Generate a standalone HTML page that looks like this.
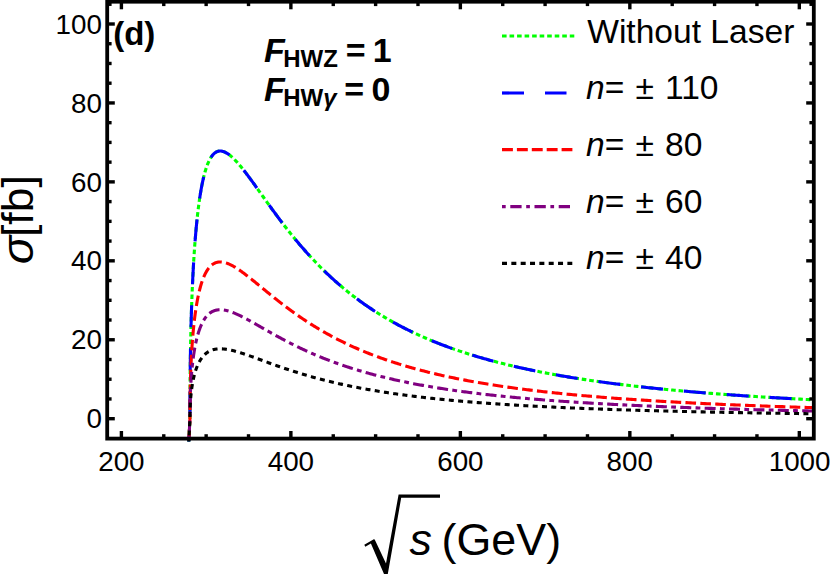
<!DOCTYPE html>
<html><head><meta charset="utf-8"><title>plot</title>
<style>
html,body{margin:0;padding:0;background:#fff;}
body{width:830px;height:574px;overflow:hidden;font-family:"Liberation Sans",sans-serif;}
svg{display:block;}
text{font-family:"Liberation Sans",sans-serif;fill:#000;}
</style></head><body>
<svg width="830" height="574" viewBox="0 0 830 574">
<rect width="830" height="574" fill="#fff"/>
<defs><clipPath id="cp"><rect x="107.2" y="0" width="706.5999999999999" height="442"/></clipPath></defs>
<g fill="none" stroke-width="3.1" stroke-linejoin="round" clip-path="url(#cp)">
<path d="M188.80 441.50 L189.95 418.70 L189.95 415.95 L189.95 413.15 L189.95 410.35 L189.96 407.53 L189.97 404.70 L189.97 401.87 L189.98 399.04 L190.00 396.21 L190.01 393.37 L190.03 390.53 L190.04 387.69 L190.06 384.86 L190.09 382.02 L190.11 379.18 L190.14 376.35 L190.17 373.52 L190.20 370.69 L190.23 367.86 L190.27 365.04 L190.30 362.22 L190.34 359.41 L190.39 356.60 L190.43 353.80 L190.48 351.00 L190.53 348.21 L190.58 345.43 L190.63 342.66 L190.69 339.89 L190.75 337.13 L190.81 334.38 L190.88 331.63 L190.94 328.90 L191.01 326.18 L191.09 323.46 L191.16 320.76 L191.24 318.07 L191.32 315.39 L191.40 312.72 L191.49 310.06 L191.58 307.42 L191.67 304.78 L191.76 302.16 L191.86 299.56 L191.95 296.97 L192.06 294.39 L192.16 291.83 L192.27 289.28 L192.38 286.75 L192.49 284.24 L192.61 281.74 L192.72 279.26 L192.84 276.79 L192.97 274.34 L193.10 271.91 L193.22 269.50 L193.36 267.10 L193.49 264.73 L193.63 262.37 L193.77 260.03 L193.92 257.72 L194.06 255.42 L194.21 253.14 L194.37 250.88 L194.52 248.65 L194.68 246.43 L194.84 244.23 L195.01 242.06 L195.17 239.91 L195.34 237.78 L195.52 235.68 L195.69 233.59 L195.87 231.53 L196.06 229.49 L196.24 227.48 L196.43 225.49 L196.62 223.52 L196.82 221.58 L197.01 219.66 L197.21 217.76 L197.42 215.90 L197.63 214.05 L197.84 212.23 L198.05 210.44 L198.26 208.67 L198.48 206.92 L198.71 205.21 L198.93 203.52 L199.16 201.85 L199.39 200.21 L199.63 198.60 L199.87 197.01 L200.11 195.45 L200.35 193.92 L200.60 192.41 L200.85 190.93 L201.10 189.48 L201.36 188.05 L201.62 186.65 L201.89 185.28 L202.15 183.94 L202.42 182.62 L202.70 181.33 L202.97 180.07 L203.25 178.83 L203.53 177.63 L203.82 176.45 L204.11 175.29 L204.40 174.17 L204.70 173.07 L205.00 172.00 L205.30 170.96 L205.61 169.95 L205.92 168.96 L206.23 168.00 L206.55 167.07 L206.86 166.16 L207.19 165.29 L207.51 164.43 L207.84 163.61 L208.17 162.82 L208.51 162.05 L208.85 161.31 L209.19 160.59 L209.54 159.90 L209.89 159.24 L210.24 158.61 L210.59 158.00 L210.95 157.42 L211.32 156.86 L211.68 156.33 L212.05 155.83 L212.43 155.35 L212.80 154.90 L213.18 154.48 L213.56 154.08 L213.95 153.70 L214.34 153.35 L214.73 153.03 L215.13 152.73 L215.53 152.45 L215.94 152.20 L216.34 151.98 L216.75 151.78 L217.17 151.60 L217.58 151.45 L218.01 151.32 L218.43 151.21 L218.86 151.13 L219.29 151.07 L219.72 151.03 L220.16 151.01 L220.61 151.02 L221.05 151.05 L221.50 151.10 L221.95 151.18 L222.41 151.27 L222.87 151.39 L223.33 151.53 L223.80 151.69 L224.27 151.87 L224.74 152.06 L225.22 152.28 L225.70 152.52 L226.18 152.78 L226.67 153.06 L227.16 153.36 L227.66 153.68 L228.16 154.02 L228.66 154.37 L229.16 154.74 L229.67 155.13 L230.19 155.54 L230.70 155.97 L231.22 156.41 L231.75 156.87 L232.27 157.35 L232.80 157.84 L233.34 158.35 L233.88 158.88 L234.42 159.42 L234.96 159.98 L235.51 160.55 L236.07 161.13 L236.62 161.74 L237.18 162.35 L237.74 162.98 L238.31 163.63 L238.88 164.28 L239.46 164.96 L240.04 165.64 L240.62 166.34 L241.20 167.05 L241.79 167.77 L242.38 168.51 L242.98 169.25 L243.58 170.01 L244.18 170.78 L244.79 171.56 L245.40 172.35 L246.02 173.16 L246.64 173.97 L247.26 174.79 L247.89 175.62 L248.52 176.47 L249.15 177.32 L249.79 178.18 L250.43 179.05 L251.07 179.93 L251.72 180.82 L252.37 181.71 L253.03 182.62 L253.69 183.53 L254.35 184.45 L255.02 185.38 L255.69 186.31 L256.36 187.25 L257.04 188.20 L257.72 189.15 L258.41 190.11 L259.10 191.08 L259.79 192.05 L260.49 193.03 L261.19 194.01 L261.89 195.00 L262.60 196.00 L263.32 197.00 L264.03 198.00 L264.75 199.01 L265.48 200.02 L266.20 201.04 L266.93 202.06 L267.67 203.08 L268.41 204.11 L269.15 205.14 L269.90 206.17 L270.65 207.21 L271.40 208.25 L272.16 209.29 L272.92 210.33 L273.69 211.38 L274.46 212.43 L275.23 213.48 L276.01 214.53 L276.79 215.59 L277.57 216.64 L278.36 217.70 L279.15 218.76 L279.95 219.82 L280.75 220.88 L281.56 221.94 L282.36 223.00 L283.18 224.06 L283.99 225.12 L284.81 226.18 L285.63 227.24 L286.46 228.31 L287.29 229.37 L288.13 230.43 L288.97 231.49 L289.81 232.55 L290.66 233.61 L291.51 234.67 L292.36 235.73 L293.22 236.78 L294.08 237.84 L294.95 238.89 L295.82 239.94 L296.70 240.99 L297.57 242.04 L298.46 243.09 L299.34 244.14 L300.23 245.18 L301.13 246.22 L302.02 247.26 L302.93 248.30 L303.83 249.34 L304.74 250.37 L305.66 251.40 L306.57 252.43 L307.49 253.45 L308.42 254.48 L309.35 255.49 L310.28 256.51 L311.22 257.53 L312.16 258.54 L313.11 259.54 L314.06 260.55 L315.01 261.55 L315.97 262.55 L316.93 263.54 L317.89 264.54 L318.86 265.52 L319.84 266.51 L320.81 267.49 L321.79 268.47 L322.78 269.44 L323.77 270.41 L324.76 271.38 L325.76 272.34 L326.76 273.30 L327.77 274.25 L328.78 275.20 L329.79 276.15 L330.81 277.09 L331.83 278.03 L332.85 278.97 L333.88 279.90 L334.92 280.82 L335.95 281.75 L337.00 282.66 L338.04 283.58 L339.09 284.49 L340.14 285.39 L341.20 286.29 L342.26 287.19 L343.33 288.08 L344.40 288.97 L345.47 289.85 L346.55 290.73 L347.63 291.61 L348.72 292.48 L349.81 293.34 L350.90 294.20 L352.00 295.06 L353.10 295.91 L354.21 296.76 L355.32 297.60 L356.44 298.44 L357.55 299.27 L358.68 300.10 L359.80 300.92 L360.94 301.74 L362.07 302.56 L363.21 303.37 L364.35 304.17 L365.50 304.97 L366.65 305.77 L367.81 306.56 L368.97 307.35 L370.13 308.13 L371.30 308.90 L372.47 309.68 L373.65 310.45 L374.83 311.21 L376.01 311.97 L377.20 312.72 L378.39 313.47 L379.59 314.22 L380.79 314.96 L382.00 315.69 L383.21 316.42 L384.42 317.15 L385.64 317.87 L386.86 318.59 L388.08 319.30 L389.31 320.01 L390.55 320.71 L391.79 321.41 L393.03 322.11 L394.27 322.80 L395.53 323.48 L396.78 324.16 L398.04 324.84 L399.30 325.51 L400.57 326.18 L401.84 326.84 L403.12 327.50 L404.40 328.15 L405.68 328.80 L406.97 329.45 L408.26 330.09 L409.56 330.72 L410.86 331.36 L412.16 331.98 L413.47 332.61 L414.79 333.23 L416.11 333.84 L417.43 334.45 L418.75 335.06 L420.08 335.66 L421.42 336.26 L422.76 336.85 L424.10 337.44 L425.45 338.02 L426.80 338.61 L428.15 339.18 L429.51 339.76 L430.88 340.32 L432.25 340.89 L433.62 341.45 L434.99 342.01 L436.37 342.56 L437.76 343.11 L439.15 343.65 L440.54 344.19 L441.94 344.73 L443.34 345.26 L444.75 345.79 L446.16 346.32 L447.57 346.84 L448.99 347.36 L450.42 347.87 L451.84 348.38 L453.28 348.88 L454.71 349.39 L456.15 349.89 L457.60 350.38 L459.05 350.87 L460.50 351.36 L461.96 351.84 L463.42 352.32 L464.88 352.80 L466.35 353.27 L467.83 353.74 L469.31 354.21 L470.79 354.67 L472.28 355.13 L473.77 355.59 L475.27 356.04 L476.77 356.49 L478.27 356.94 L479.78 357.38 L481.29 357.82 L482.81 358.25 L484.33 358.68 L485.86 359.11 L487.39 359.54 L488.92 359.96 L490.46 360.38 L492.01 360.80 L493.55 361.21 L495.10 361.62 L496.66 362.03 L498.22 362.43 L499.79 362.83 L501.36 363.23 L502.93 363.62 L504.51 364.01 L506.09 364.40 L507.68 364.79 L509.27 365.17 L510.86 365.55 L512.46 365.93 L514.06 366.30 L515.67 366.67 L517.28 367.04 L518.90 367.40 L520.52 367.77 L522.15 368.13 L523.78 368.48 L525.41 368.84 L527.05 369.19 L528.69 369.54 L530.34 369.88 L531.99 370.23 L533.65 370.57 L535.31 370.90 L536.97 371.24 L538.64 371.57 L540.32 371.90 L541.99 372.23 L543.68 372.56 L545.36 372.88 L547.05 373.20 L548.75 373.52 L550.45 373.83 L552.15 374.14 L553.86 374.45 L555.58 374.76 L557.29 375.07 L559.01 375.37 L560.74 375.67 L562.47 375.97 L564.21 376.27 L565.94 376.56 L567.69 376.85 L569.44 377.14 L571.19 377.43 L572.95 377.71 L574.71 378.00 L576.47 378.28 L578.24 378.55 L580.02 378.83 L581.80 379.10 L583.58 379.38 L585.37 379.65 L587.16 379.91 L588.96 380.18 L590.76 380.44 L592.56 380.70 L594.37 380.96 L596.19 381.22 L598.01 381.48 L599.83 381.73 L601.66 381.98 L603.49 382.23 L605.32 382.48 L607.17 382.72 L609.01 382.97 L610.86 383.21 L612.71 383.45 L614.57 383.69 L616.44 383.93 L618.30 384.16 L620.18 384.39 L622.05 384.62 L623.93 384.85 L625.82 385.08 L627.71 385.31 L629.60 385.53 L631.50 385.75 L633.41 385.97 L635.31 386.19 L637.22 386.41 L639.14 386.62 L641.06 386.84 L642.99 387.05 L644.92 387.26 L646.85 387.47 L648.79 387.68 L650.74 387.88 L652.68 388.09 L654.64 388.29 L656.59 388.49 L658.55 388.69 L660.52 388.89 L662.49 389.09 L664.47 389.28 L666.44 389.47 L668.43 389.67 L670.42 389.86 L672.41 390.05 L674.41 390.23 L676.41 390.42 L678.42 390.61 L680.43 390.79 L682.44 390.97 L684.46 391.15 L686.49 391.33 L688.52 391.51 L690.55 391.69 L692.59 391.86 L694.63 392.04 L696.68 392.21 L698.73 392.38 L700.78 392.55 L702.84 392.72 L704.91 392.89 L706.98 393.05 L709.05 393.22 L711.13 393.38 L713.22 393.54 L715.30 393.70 L717.40 393.87 L719.49 394.02 L721.59 394.18 L723.70 394.34 L725.81 394.49 L727.92 394.65 L730.04 394.80 L732.17 394.95 L734.30 395.10 L736.43 395.25 L738.57 395.40 L740.71 395.55 L742.86 395.70 L745.01 395.84 L747.16 395.99 L749.32 396.13 L751.49 396.27 L753.66 396.41 L755.83 396.55 L758.01 396.69 L760.20 396.83 L762.38 396.97 L764.58 397.10 L766.77 397.24 L768.97 397.37 L771.18 397.50 L773.39 397.64 L775.61 397.77 L777.83 397.90 L780.05 398.03 L782.28 398.15 L784.51 398.28 L786.75 398.41 L789.00 398.53 L791.24 398.66 L793.49 398.78 L795.75 398.90 L798.01 399.02 L800.28 399.15 L802.55 399.27 L804.82 399.38 L807.10 399.50 L809.39 399.62 L811.68 399.74 L813.97 399.85" stroke="#00ff00" stroke-dasharray="4.6 2.9"/>
<path d="M188.80 441.50 L189.95 418.70 L189.95 415.95 L189.95 413.15 L189.95 410.35 L189.96 407.53 L189.97 404.70 L189.97 401.87 L189.98 399.04 L190.00 396.21 L190.01 393.37 L190.03 390.53 L190.04 387.69 L190.06 384.86 L190.09 382.02 L190.11 379.18 L190.14 376.35 L190.17 373.52 L190.20 370.69 L190.23 367.86 L190.27 365.04 L190.30 362.22 L190.34 359.41 L190.39 356.60 L190.43 353.80 L190.48 351.00 L190.53 348.21 L190.58 345.43 L190.63 342.66 L190.69 339.89 L190.75 337.13 L190.81 334.38 L190.88 331.63 L190.94 328.90 L191.01 326.18 L191.09 323.46 L191.16 320.76 L191.24 318.07 L191.32 315.39 L191.40 312.72 L191.49 310.06 L191.58 307.42 L191.67 304.78 L191.76 302.16 L191.86 299.56 L191.95 296.97 L192.06 294.39 L192.16 291.83 L192.27 289.28 L192.38 286.75 L192.49 284.24 L192.61 281.74 L192.72 279.26 L192.84 276.79 L192.97 274.34 L193.10 271.91 L193.22 269.50 L193.36 267.10 L193.49 264.73 L193.63 262.37 L193.77 260.03 L193.92 257.72 L194.06 255.42 L194.21 253.14 L194.37 250.88 L194.52 248.65 L194.68 246.43 L194.84 244.23 L195.01 242.06 L195.17 239.91 L195.34 237.78 L195.52 235.68 L195.69 233.59 L195.87 231.53 L196.06 229.49 L196.24 227.48 L196.43 225.49 L196.62 223.52 L196.82 221.58 L197.01 219.66 L197.21 217.76 L197.42 215.90 L197.63 214.05 L197.84 212.23 L198.05 210.44 L198.26 208.67 L198.48 206.92 L198.71 205.21 L198.93 203.52 L199.16 201.85 L199.39 200.21 L199.63 198.60 L199.87 197.01 L200.11 195.45 L200.35 193.92 L200.60 192.41 L200.85 190.93 L201.10 189.48 L201.36 188.05 L201.62 186.65 L201.89 185.28 L202.15 183.94 L202.42 182.62 L202.70 181.33 L202.97 180.07 L203.25 178.83 L203.53 177.63 L203.82 176.45 L204.11 175.29 L204.40 174.17 L204.70 173.07 L205.00 172.00 L205.30 170.96 L205.61 169.95 L205.92 168.96 L206.23 168.00 L206.55 167.07 L206.86 166.16 L207.19 165.29 L207.51 164.43 L207.84 163.61 L208.17 162.82 L208.51 162.05 L208.85 161.31 L209.19 160.59 L209.54 159.90 L209.89 159.24 L210.24 158.61 L210.59 158.00 L210.95 157.42 L211.32 156.86 L211.68 156.33 L212.05 155.83 L212.43 155.35 L212.80 154.90 L213.18 154.48 L213.56 154.08 L213.95 153.70 L214.34 153.35 L214.73 153.03 L215.13 152.73 L215.53 152.45 L215.94 152.20 L216.34 151.98 L216.75 151.78 L217.17 151.60 L217.58 151.45 L218.01 151.32 L218.43 151.21 L218.86 151.13 L219.29 151.07 L219.72 151.03 L220.16 151.01 L220.61 151.02 L221.05 151.05 L221.50 151.10 L221.95 151.18 L222.41 151.27 L222.87 151.39 L223.33 151.53 L223.80 151.69 L224.27 151.87 L224.74 152.06 L225.22 152.28 L225.70 152.52 L226.18 152.78 L226.67 153.06 L227.16 153.36 L227.66 153.68 L228.16 154.02 L228.66 154.37 L229.16 154.74 L229.67 155.13 L230.19 155.54 L230.70 155.97 L231.22 156.41 L231.75 156.87 L232.27 157.35 L232.80 157.84 L233.34 158.35 L233.88 158.88 L234.42 159.42 L234.96 159.98 L235.51 160.55 L236.07 161.13 L236.62 161.74 L237.18 162.35 L237.74 162.98 L238.31 163.63 L238.88 164.28 L239.46 164.96 L240.04 165.64 L240.62 166.34 L241.20 167.05 L241.79 167.77 L242.38 168.51 L242.98 169.25 L243.58 170.01 L244.18 170.78 L244.79 171.56 L245.40 172.35 L246.02 173.16 L246.64 173.97 L247.26 174.79 L247.89 175.62 L248.52 176.47 L249.15 177.32 L249.79 178.18 L250.43 179.05 L251.07 179.93 L251.72 180.82 L252.37 181.71 L253.03 182.62 L253.69 183.53 L254.35 184.45 L255.02 185.38 L255.69 186.31 L256.36 187.25 L257.04 188.20 L257.72 189.15 L258.41 190.11 L259.10 191.08 L259.79 192.05 L260.49 193.03 L261.19 194.01 L261.89 195.00 L262.60 196.00 L263.32 197.00 L264.03 198.00 L264.75 199.01 L265.48 200.02 L266.20 201.04 L266.93 202.06 L267.67 203.08 L268.41 204.11 L269.15 205.14 L269.90 206.17 L270.65 207.21 L271.40 208.25 L272.16 209.29 L272.92 210.33 L273.69 211.38 L274.46 212.43 L275.23 213.48 L276.01 214.53 L276.79 215.59 L277.57 216.64 L278.36 217.70 L279.15 218.76 L279.95 219.82 L280.75 220.88 L281.56 221.94 L282.36 223.00 L283.18 224.06 L283.99 225.12 L284.81 226.18 L285.63 227.24 L286.46 228.31 L287.29 229.37 L288.13 230.43 L288.97 231.49 L289.81 232.55 L290.66 233.61 L291.51 234.67 L292.36 235.73 L293.22 236.78 L294.08 237.84 L294.95 238.89 L295.82 239.94 L296.70 240.99 L297.57 242.04 L298.46 243.09 L299.34 244.14 L300.23 245.18 L301.13 246.22 L302.02 247.26 L302.93 248.30 L303.83 249.34 L304.74 250.37 L305.66 251.40 L306.57 252.43 L307.49 253.45 L308.42 254.48 L309.35 255.49 L310.28 256.51 L311.22 257.53 L312.16 258.54 L313.11 259.54 L314.06 260.55 L315.01 261.55 L315.97 262.55 L316.93 263.54 L317.89 264.54 L318.86 265.52 L319.84 266.51 L320.81 267.49 L321.79 268.47 L322.78 269.44 L323.77 270.41 L324.76 271.38 L325.76 272.34 L326.76 273.30 L327.77 274.25 L328.78 275.20 L329.79 276.15 L330.81 277.09 L331.83 278.03 L332.85 278.97 L333.88 279.90 L334.92 280.82 L335.95 281.75 L337.00 282.66 L338.04 283.58 L339.09 284.49 L340.14 285.39 L341.20 286.29 L342.26 287.19 L343.33 288.08 L344.40 288.97 L345.47 289.85 L346.55 290.73 L347.63 291.61 L348.72 292.48 L349.81 293.34 L350.90 294.20 L352.00 295.06 L353.10 295.91 L354.21 296.76 L355.32 297.60 L356.44 298.44 L357.55 299.27 L358.68 300.10 L359.80 300.92 L360.94 301.74 L362.07 302.56 L363.21 303.37 L364.35 304.17 L365.50 304.97 L366.65 305.77 L367.81 306.56 L368.97 307.35 L370.13 308.13 L371.30 308.90 L372.47 309.68 L373.65 310.45 L374.83 311.21 L376.01 311.97 L377.20 312.72 L378.39 313.47 L379.59 314.22 L380.79 314.96 L382.00 315.69 L383.21 316.42 L384.42 317.15 L385.64 317.87 L386.86 318.59 L388.08 319.30 L389.31 320.01 L390.55 320.71 L391.79 321.41 L393.03 322.11 L394.27 322.80 L395.53 323.48 L396.78 324.16 L398.04 324.84 L399.30 325.51 L400.57 326.18 L401.84 326.84 L403.12 327.50 L404.40 328.15 L405.68 328.80 L406.97 329.45 L408.26 330.09 L409.56 330.72 L410.86 331.36 L412.16 331.98 L413.47 332.61 L414.79 333.23 L416.11 333.84 L417.43 334.45 L418.75 335.06 L420.08 335.66 L421.42 336.26 L422.76 336.85 L424.10 337.44 L425.45 338.02 L426.80 338.61 L428.15 339.18 L429.51 339.76 L430.88 340.32 L432.25 340.89 L433.62 341.45 L434.99 342.01 L436.37 342.56 L437.76 343.11 L439.15 343.65 L440.54 344.19 L441.94 344.73 L443.34 345.26 L444.75 345.79 L446.16 346.32 L447.57 346.84 L448.99 347.36 L450.42 347.87 L451.84 348.38 L453.28 348.88 L454.71 349.39 L456.15 349.89 L457.60 350.38 L459.05 350.87 L460.50 351.36 L461.96 351.84 L463.42 352.32 L464.88 352.80 L466.35 353.27 L467.83 353.74 L469.31 354.21 L470.79 354.67 L472.28 355.13 L473.77 355.59 L475.27 356.04 L476.77 356.49 L478.27 356.94 L479.78 357.38 L481.29 357.82 L482.81 358.25 L484.33 358.68 L485.86 359.11 L487.39 359.54 L488.92 359.96 L490.46 360.38 L492.01 360.80 L493.55 361.21 L495.10 361.62 L496.66 362.03 L498.22 362.43 L499.79 362.83 L501.36 363.23 L502.93 363.62 L504.51 364.01 L506.09 364.40 L507.68 364.79 L509.27 365.17 L510.86 365.55 L512.46 365.93 L514.06 366.30 L515.67 366.67 L517.28 367.04 L518.90 367.40 L520.52 367.77 L522.15 368.13 L523.78 368.48 L525.41 368.84 L527.05 369.19 L528.69 369.54 L530.34 369.88 L531.99 370.23 L533.65 370.57 L535.31 370.90 L536.97 371.24 L538.64 371.57 L540.32 371.90 L541.99 372.23 L543.68 372.56 L545.36 372.88 L547.05 373.20 L548.75 373.52 L550.45 373.83 L552.15 374.14 L553.86 374.45 L555.58 374.76 L557.29 375.07 L559.01 375.37 L560.74 375.67 L562.47 375.97 L564.21 376.27 L565.94 376.56 L567.69 376.85 L569.44 377.14 L571.19 377.43 L572.95 377.71 L574.71 378.00 L576.47 378.28 L578.24 378.55 L580.02 378.83 L581.80 379.10 L583.58 379.38 L585.37 379.65 L587.16 379.91 L588.96 380.18 L590.76 380.44 L592.56 380.70 L594.37 380.96 L596.19 381.22 L598.01 381.48 L599.83 381.73 L601.66 381.98 L603.49 382.23 L605.32 382.48 L607.17 382.72 L609.01 382.97 L610.86 383.21 L612.71 383.45 L614.57 383.69 L616.44 383.93 L618.30 384.16 L620.18 384.39 L622.05 384.62 L623.93 384.85 L625.82 385.08 L627.71 385.31 L629.60 385.53 L631.50 385.75 L633.41 385.97 L635.31 386.19 L637.22 386.41 L639.14 386.62 L641.06 386.84 L642.99 387.05 L644.92 387.26 L646.85 387.47 L648.79 387.68 L650.74 387.88 L652.68 388.09 L654.64 388.29 L656.59 388.49 L658.55 388.69 L660.52 388.89 L662.49 389.09 L664.47 389.28 L666.44 389.47 L668.43 389.67 L670.42 389.86 L672.41 390.05 L674.41 390.23 L676.41 390.42 L678.42 390.61 L680.43 390.79 L682.44 390.97 L684.46 391.15 L686.49 391.33 L688.52 391.51 L690.55 391.69 L692.59 391.86 L694.63 392.04 L696.68 392.21 L698.73 392.38 L700.78 392.55 L702.84 392.72 L704.91 392.89 L706.98 393.05 L709.05 393.22 L711.13 393.38 L713.22 393.54 L715.30 393.70 L717.40 393.87 L719.49 394.02 L721.59 394.18 L723.70 394.34 L725.81 394.49 L727.92 394.65 L730.04 394.80 L732.17 394.95 L734.30 395.10 L736.43 395.25 L738.57 395.40 L740.71 395.55 L742.86 395.70 L745.01 395.84 L747.16 395.99 L749.32 396.13 L751.49 396.27 L753.66 396.41 L755.83 396.55 L758.01 396.69 L760.20 396.83 L762.38 396.97 L764.58 397.10 L766.77 397.24 L768.97 397.37 L771.18 397.50 L773.39 397.64 L775.61 397.77 L777.83 397.90 L780.05 398.03 L782.28 398.15 L784.51 398.28 L786.75 398.41 L789.00 398.53 L791.24 398.66 L793.49 398.78 L795.75 398.90 L798.01 399.02 L800.28 399.15 L802.55 399.27 L804.82 399.38 L807.10 399.50 L809.39 399.62 L811.68 399.74 L813.97 399.85" stroke="#0000ff" stroke-dasharray="22 21" stroke-dashoffset="14.7"/>
<path d="M188.80 441.50 L189.95 418.70 L189.95 417.09 L189.95 415.45 L189.95 413.81 L189.96 412.16 L189.97 410.50 L189.97 408.85 L189.98 407.19 L190.00 405.53 L190.01 403.87 L190.03 402.21 L190.04 400.54 L190.06 398.88 L190.09 397.22 L190.11 395.56 L190.14 393.90 L190.17 392.24 L190.20 390.59 L190.23 388.93 L190.27 387.28 L190.30 385.63 L190.34 383.98 L190.39 382.34 L190.43 380.70 L190.48 379.06 L190.53 377.43 L190.58 375.80 L190.63 374.17 L190.69 372.55 L190.75 370.94 L190.81 369.32 L190.88 367.72 L190.94 366.12 L191.01 364.52 L191.09 362.93 L191.16 361.35 L191.24 359.77 L191.32 358.20 L191.40 356.64 L191.49 355.09 L191.58 353.54 L191.67 352.00 L191.76 350.46 L191.86 348.94 L191.95 347.42 L192.06 345.91 L192.16 344.41 L192.27 342.92 L192.38 341.44 L192.49 339.97 L192.61 338.50 L192.72 337.05 L192.84 335.61 L192.97 334.17 L193.10 332.75 L193.22 331.34 L193.36 329.93 L193.49 328.54 L193.63 327.16 L193.77 325.79 L193.92 324.44 L194.06 323.09 L194.21 321.76 L194.37 320.43 L194.52 319.13 L194.68 317.83 L194.84 316.54 L195.01 315.27 L195.17 314.01 L195.34 312.76 L195.52 311.53 L195.69 310.31 L195.87 309.10 L196.06 307.91 L196.24 306.73 L196.43 305.57 L196.62 304.41 L196.82 303.28 L197.01 302.15 L197.21 301.04 L197.42 299.95 L197.63 298.87 L197.84 297.80 L198.05 296.75 L198.26 295.72 L198.48 294.70 L198.71 293.69 L198.93 292.70 L199.16 291.72 L199.39 290.76 L199.63 289.82 L199.87 288.89 L200.11 287.98 L200.35 287.08 L200.60 286.20 L200.85 285.33 L201.10 284.48 L201.36 283.64 L201.62 282.83 L201.89 282.02 L202.15 281.24 L202.42 280.46 L202.70 279.71 L202.97 278.97 L203.25 278.25 L203.53 277.54 L203.82 276.85 L204.11 276.18 L204.40 275.52 L204.70 274.87 L205.00 274.25 L205.30 273.64 L205.61 273.04 L205.92 272.47 L206.23 271.90 L206.55 271.36 L206.86 270.83 L207.19 270.31 L207.51 269.82 L207.84 269.33 L208.17 268.87 L208.51 268.42 L208.85 267.98 L209.19 267.57 L209.54 267.16 L209.89 266.78 L210.24 266.40 L210.59 266.05 L210.95 265.71 L211.32 265.38 L211.68 265.07 L212.05 264.78 L212.43 264.50 L212.80 264.23 L213.18 263.99 L213.56 263.75 L213.95 263.53 L214.34 263.33 L214.73 263.14 L215.13 262.96 L215.53 262.80 L215.94 262.65 L216.34 262.52 L216.75 262.40 L217.17 262.30 L217.58 262.21 L218.01 262.13 L218.43 262.07 L218.86 262.02 L219.29 261.99 L219.72 261.97 L220.16 261.96 L220.61 261.96 L221.05 261.98 L221.50 262.01 L221.95 262.05 L222.41 262.11 L222.87 262.18 L223.33 262.26 L223.80 262.35 L224.27 262.46 L224.74 262.57 L225.22 262.70 L225.70 262.84 L226.18 262.99 L226.67 263.16 L227.16 263.33 L227.66 263.52 L228.16 263.71 L228.66 263.92 L229.16 264.14 L229.67 264.37 L230.19 264.61 L230.70 264.86 L231.22 265.12 L231.75 265.39 L232.27 265.67 L232.80 265.96 L233.34 266.25 L233.88 266.56 L234.42 266.88 L234.96 267.20 L235.51 267.54 L236.07 267.88 L236.62 268.24 L237.18 268.60 L237.74 268.97 L238.31 269.34 L238.88 269.73 L239.46 270.12 L240.04 270.52 L240.62 270.93 L241.20 271.35 L241.79 271.77 L242.38 272.20 L242.98 272.64 L243.58 273.08 L244.18 273.53 L244.79 273.99 L245.40 274.45 L246.02 274.92 L246.64 275.40 L247.26 275.88 L247.89 276.37 L248.52 276.86 L249.15 277.36 L249.79 277.86 L250.43 278.37 L251.07 278.89 L251.72 279.41 L252.37 279.93 L253.03 280.46 L253.69 281.00 L254.35 281.54 L255.02 282.08 L255.69 282.63 L256.36 283.18 L257.04 283.73 L257.72 284.29 L258.41 284.85 L259.10 285.42 L259.79 285.99 L260.49 286.56 L261.19 287.14 L261.89 287.72 L262.60 288.30 L263.32 288.88 L264.03 289.47 L264.75 290.06 L265.48 290.65 L266.20 291.25 L266.93 291.84 L267.67 292.44 L268.41 293.05 L269.15 293.65 L269.90 294.25 L270.65 294.86 L271.40 295.47 L272.16 296.08 L272.92 296.69 L273.69 297.30 L274.46 297.92 L275.23 298.53 L276.01 299.15 L276.79 299.77 L277.57 300.39 L278.36 301.00 L279.15 301.62 L279.95 302.24 L280.75 302.86 L281.56 303.49 L282.36 304.11 L283.18 304.73 L283.99 305.35 L284.81 305.97 L285.63 306.59 L286.46 307.22 L287.29 307.84 L288.13 308.46 L288.97 309.08 L289.81 309.70 L290.66 310.32 L291.51 310.94 L292.36 311.56 L293.22 312.18 L294.08 312.80 L294.95 313.41 L295.82 314.03 L296.70 314.65 L297.57 315.26 L298.46 315.87 L299.34 316.49 L300.23 317.10 L301.13 317.71 L302.02 318.32 L302.93 318.92 L303.83 319.53 L304.74 320.13 L305.66 320.74 L306.57 321.34 L307.49 321.94 L308.42 322.54 L309.35 323.14 L310.28 323.73 L311.22 324.33 L312.16 324.92 L313.11 325.51 L314.06 326.10 L315.01 326.68 L315.97 327.27 L316.93 327.85 L317.89 328.43 L318.86 329.01 L319.84 329.59 L320.81 330.16 L321.79 330.73 L322.78 331.30 L323.77 331.87 L324.76 332.44 L325.76 333.00 L326.76 333.56 L327.77 334.12 L328.78 334.68 L329.79 335.23 L330.81 335.78 L331.83 336.33 L332.85 336.88 L333.88 337.43 L334.92 337.97 L335.95 338.51 L337.00 339.05 L338.04 339.58 L339.09 340.11 L340.14 340.64 L341.20 341.17 L342.26 341.69 L343.33 342.22 L344.40 342.74 L345.47 343.25 L346.55 343.77 L347.63 344.28 L348.72 344.79 L349.81 345.30 L350.90 345.80 L352.00 346.30 L353.10 346.80 L354.21 347.30 L355.32 347.79 L356.44 348.28 L357.55 348.77 L358.68 349.25 L359.80 349.74 L360.94 350.21 L362.07 350.69 L363.21 351.17 L364.35 351.64 L365.50 352.11 L366.65 352.57 L367.81 353.04 L368.97 353.50 L370.13 353.95 L371.30 354.41 L372.47 354.86 L373.65 355.31 L374.83 355.76 L376.01 356.20 L377.20 356.65 L378.39 357.08 L379.59 357.52 L380.79 357.95 L382.00 358.38 L383.21 358.81 L384.42 359.24 L385.64 359.66 L386.86 360.08 L388.08 360.50 L389.31 360.91 L390.55 361.32 L391.79 361.73 L393.03 362.14 L394.27 362.54 L395.53 362.94 L396.78 363.34 L398.04 363.74 L399.30 364.13 L400.57 364.52 L401.84 364.91 L403.12 365.30 L404.40 365.68 L405.68 366.06 L406.97 366.44 L408.26 366.81 L409.56 367.19 L410.86 367.56 L412.16 367.92 L413.47 368.29 L414.79 368.65 L416.11 369.01 L417.43 369.37 L418.75 369.72 L420.08 370.08 L421.42 370.43 L422.76 370.77 L424.10 371.12 L425.45 371.46 L426.80 371.80 L428.15 372.14 L429.51 372.47 L430.88 372.81 L432.25 373.14 L433.62 373.47 L434.99 373.79 L436.37 374.12 L437.76 374.44 L439.15 374.76 L440.54 375.07 L441.94 375.39 L443.34 375.70 L444.75 376.01 L446.16 376.32 L447.57 376.62 L448.99 376.92 L450.42 377.23 L451.84 377.52 L453.28 377.82 L454.71 378.11 L456.15 378.41 L457.60 378.70 L459.05 378.98 L460.50 379.27 L461.96 379.55 L463.42 379.83 L464.88 380.11 L466.35 380.39 L467.83 380.67 L469.31 380.94 L470.79 381.21 L472.28 381.48 L473.77 381.75 L475.27 382.01 L476.77 382.27 L478.27 382.53 L479.78 382.79 L481.29 383.05 L482.81 383.31 L484.33 383.56 L485.86 383.81 L487.39 384.06 L488.92 384.31 L490.46 384.55 L492.01 384.80 L493.55 385.04 L495.10 385.28 L496.66 385.52 L498.22 385.75 L499.79 385.99 L501.36 386.22 L502.93 386.45 L504.51 386.68 L506.09 386.91 L507.68 387.13 L509.27 387.36 L510.86 387.58 L512.46 387.80 L514.06 388.02 L515.67 388.23 L517.28 388.45 L518.90 388.66 L520.52 388.88 L522.15 389.09 L523.78 389.30 L525.41 389.50 L527.05 389.71 L528.69 389.91 L530.34 390.12 L531.99 390.32 L533.65 390.52 L535.31 390.71 L536.97 390.91 L538.64 391.10 L540.32 391.30 L541.99 391.49 L543.68 391.68 L545.36 391.87 L547.05 392.06 L548.75 392.24 L550.45 392.43 L552.15 392.61 L553.86 392.79 L555.58 392.97 L557.29 393.15 L559.01 393.33 L560.74 393.50 L562.47 393.68 L564.21 393.85 L565.94 394.02 L567.69 394.20 L569.44 394.36 L571.19 394.53 L572.95 394.70 L574.71 394.87 L576.47 395.03 L578.24 395.19 L580.02 395.35 L581.80 395.51 L583.58 395.67 L585.37 395.83 L587.16 395.99 L588.96 396.14 L590.76 396.30 L592.56 396.45 L594.37 396.60 L596.19 396.75 L598.01 396.90 L599.83 397.05 L601.66 397.20 L603.49 397.35 L605.32 397.49 L607.17 397.63 L609.01 397.78 L610.86 397.92 L612.71 398.06 L614.57 398.20 L616.44 398.34 L618.30 398.48 L620.18 398.61 L622.05 398.75 L623.93 398.88 L625.82 399.01 L627.71 399.15 L629.60 399.28 L631.50 399.41 L633.41 399.54 L635.31 399.67 L637.22 399.79 L639.14 399.92 L641.06 400.04 L642.99 400.17 L644.92 400.29 L646.85 400.41 L648.79 400.54 L650.74 400.66 L652.68 400.78 L654.64 400.89 L656.59 401.01 L658.55 401.13 L660.52 401.24 L662.49 401.36 L664.47 401.47 L666.44 401.59 L668.43 401.70 L670.42 401.81 L672.41 401.92 L674.41 402.03 L676.41 402.14 L678.42 402.25 L680.43 402.36 L682.44 402.46 L684.46 402.57 L686.49 402.67 L688.52 402.78 L690.55 402.88 L692.59 402.98 L694.63 403.09 L696.68 403.19 L698.73 403.29 L700.78 403.39 L702.84 403.49 L704.91 403.58 L706.98 403.68 L709.05 403.78 L711.13 403.87 L713.22 403.97 L715.30 404.06 L717.40 404.16 L719.49 404.25 L721.59 404.34 L723.70 404.44 L725.81 404.53 L727.92 404.62 L730.04 404.71 L732.17 404.80 L734.30 404.88 L736.43 404.97 L738.57 405.06 L740.71 405.14 L742.86 405.23 L745.01 405.32 L747.16 405.40 L749.32 405.48 L751.49 405.57 L753.66 405.65 L755.83 405.73 L758.01 405.81 L760.20 405.89 L762.38 405.97 L764.58 406.05 L766.77 406.13 L768.97 406.21 L771.18 406.29 L773.39 406.37 L775.61 406.44 L777.83 406.52 L780.05 406.59 L782.28 406.67 L784.51 406.74 L786.75 406.82 L789.00 406.89 L791.24 406.96 L793.49 407.04 L795.75 407.11 L798.01 407.18 L800.28 407.25 L802.55 407.32 L804.82 407.39 L807.10 407.46 L809.39 407.53 L811.68 407.60 L813.97 407.66" stroke="#ff0000" stroke-dasharray="10.6 4.3" stroke-dashoffset="13.2"/>
<path d="M188.80 441.50 L189.95 418.70 L189.95 417.58 L189.95 416.44 L189.95 415.30 L189.96 414.15 L189.97 413.00 L189.97 411.85 L189.98 410.70 L190.00 409.54 L190.01 408.39 L190.03 407.23 L190.04 406.08 L190.06 404.92 L190.09 403.77 L190.11 402.61 L190.14 401.46 L190.17 400.31 L190.20 399.16 L190.23 398.00 L190.27 396.86 L190.30 395.71 L190.34 394.56 L190.39 393.42 L190.43 392.28 L190.48 391.14 L190.53 390.01 L190.58 388.87 L190.63 387.74 L190.69 386.62 L190.75 385.49 L190.81 384.37 L190.88 383.26 L190.94 382.14 L191.01 381.04 L191.09 379.93 L191.16 378.83 L191.24 377.73 L191.32 376.64 L191.40 375.56 L191.49 374.47 L191.58 373.40 L191.67 372.33 L191.76 371.26 L191.86 370.20 L191.95 369.15 L192.06 368.10 L192.16 367.05 L192.27 366.02 L192.38 364.99 L192.49 363.96 L192.61 362.95 L192.72 361.94 L192.84 360.93 L192.97 359.94 L193.10 358.95 L193.22 357.96 L193.36 356.99 L193.49 356.02 L193.63 355.06 L193.77 354.11 L193.92 353.17 L194.06 352.23 L194.21 351.30 L194.37 350.38 L194.52 349.47 L194.68 348.57 L194.84 347.68 L195.01 346.79 L195.17 345.92 L195.34 345.05 L195.52 344.19 L195.69 343.35 L195.87 342.51 L196.06 341.68 L196.24 340.86 L196.43 340.05 L196.62 339.25 L196.82 338.46 L197.01 337.67 L197.21 336.90 L197.42 336.14 L197.63 335.39 L197.84 334.65 L198.05 333.92 L198.26 333.20 L198.48 332.49 L198.71 331.79 L198.93 331.10 L199.16 330.42 L199.39 329.76 L199.63 329.10 L199.87 328.45 L200.11 327.82 L200.35 327.20 L200.60 326.58 L200.85 325.98 L201.10 325.39 L201.36 324.81 L201.62 324.24 L201.89 323.68 L202.15 323.13 L202.42 322.60 L202.70 322.07 L202.97 321.56 L203.25 321.06 L203.53 320.56 L203.82 320.08 L204.11 319.61 L204.40 319.16 L204.70 318.71 L205.00 318.27 L205.30 317.85 L205.61 317.44 L205.92 317.04 L206.23 316.65 L206.55 316.27 L206.86 315.90 L207.19 315.54 L207.51 315.19 L207.84 314.86 L208.17 314.53 L208.51 314.22 L208.85 313.92 L209.19 313.63 L209.54 313.35 L209.89 313.08 L210.24 312.82 L210.59 312.57 L210.95 312.34 L211.32 312.11 L211.68 311.90 L212.05 311.69 L212.43 311.50 L212.80 311.31 L213.18 311.14 L213.56 310.98 L213.95 310.82 L214.34 310.68 L214.73 310.55 L215.13 310.43 L215.53 310.32 L215.94 310.22 L216.34 310.12 L216.75 310.04 L217.17 309.97 L217.58 309.91 L218.01 309.85 L218.43 309.81 L218.86 309.78 L219.29 309.75 L219.72 309.74 L220.16 309.73 L220.61 309.73 L221.05 309.75 L221.50 309.77 L221.95 309.80 L222.41 309.84 L222.87 309.88 L223.33 309.94 L223.80 310.00 L224.27 310.08 L224.74 310.16 L225.22 310.25 L225.70 310.35 L226.18 310.45 L226.67 310.56 L227.16 310.69 L227.66 310.82 L228.16 310.95 L228.66 311.10 L229.16 311.25 L229.67 311.41 L230.19 311.57 L230.70 311.75 L231.22 311.93 L231.75 312.11 L232.27 312.31 L232.80 312.51 L233.34 312.72 L233.88 312.93 L234.42 313.15 L234.96 313.38 L235.51 313.61 L236.07 313.85 L236.62 314.10 L237.18 314.35 L237.74 314.60 L238.31 314.86 L238.88 315.13 L239.46 315.41 L240.04 315.68 L240.62 315.97 L241.20 316.26 L241.79 316.55 L242.38 316.85 L242.98 317.15 L243.58 317.46 L244.18 317.78 L244.79 318.09 L245.40 318.42 L246.02 318.74 L246.64 319.07 L247.26 319.41 L247.89 319.75 L248.52 320.09 L249.15 320.44 L249.79 320.79 L250.43 321.14 L251.07 321.50 L251.72 321.86 L252.37 322.23 L253.03 322.60 L253.69 322.97 L254.35 323.34 L255.02 323.72 L255.69 324.10 L256.36 324.48 L257.04 324.87 L257.72 325.26 L258.41 325.65 L259.10 326.04 L259.79 326.44 L260.49 326.83 L261.19 327.24 L261.89 327.64 L262.60 328.04 L263.32 328.45 L264.03 328.86 L264.75 329.27 L265.48 329.68 L266.20 330.09 L266.93 330.51 L267.67 330.93 L268.41 331.34 L269.15 331.76 L269.90 332.18 L270.65 332.61 L271.40 333.03 L272.16 333.45 L272.92 333.88 L273.69 334.30 L274.46 334.73 L275.23 335.16 L276.01 335.59 L276.79 336.02 L277.57 336.45 L278.36 336.88 L279.15 337.31 L279.95 337.74 L280.75 338.17 L281.56 338.60 L282.36 339.03 L283.18 339.47 L283.99 339.90 L284.81 340.33 L285.63 340.76 L286.46 341.19 L287.29 341.63 L288.13 342.06 L288.97 342.49 L289.81 342.92 L290.66 343.35 L291.51 343.78 L292.36 344.21 L293.22 344.64 L294.08 345.07 L294.95 345.50 L295.82 345.93 L296.70 346.36 L297.57 346.79 L298.46 347.21 L299.34 347.64 L300.23 348.06 L301.13 348.49 L302.02 348.91 L302.93 349.33 L303.83 349.76 L304.74 350.18 L305.66 350.60 L306.57 351.01 L307.49 351.43 L308.42 351.85 L309.35 352.26 L310.28 352.68 L311.22 353.09 L312.16 353.50 L313.11 353.91 L314.06 354.32 L315.01 354.73 L315.97 355.13 L316.93 355.54 L317.89 355.94 L318.86 356.35 L319.84 356.75 L320.81 357.15 L321.79 357.54 L322.78 357.94 L323.77 358.33 L324.76 358.73 L325.76 359.12 L326.76 359.51 L327.77 359.90 L328.78 360.29 L329.79 360.67 L330.81 361.06 L331.83 361.44 L332.85 361.82 L333.88 362.20 L334.92 362.57 L335.95 362.95 L337.00 363.32 L338.04 363.69 L339.09 364.07 L340.14 364.43 L341.20 364.80 L342.26 365.16 L343.33 365.53 L344.40 365.89 L345.47 366.25 L346.55 366.61 L347.63 366.96 L348.72 367.32 L349.81 367.67 L350.90 368.02 L352.00 368.37 L353.10 368.71 L354.21 369.06 L355.32 369.40 L356.44 369.74 L357.55 370.08 L358.68 370.42 L359.80 370.75 L360.94 371.09 L362.07 371.42 L363.21 371.75 L364.35 372.08 L365.50 372.40 L366.65 372.73 L367.81 373.05 L368.97 373.37 L370.13 373.69 L371.30 374.00 L372.47 374.32 L373.65 374.63 L374.83 374.94 L376.01 375.25 L377.20 375.56 L378.39 375.86 L379.59 376.17 L380.79 376.47 L382.00 376.77 L383.21 377.07 L384.42 377.36 L385.64 377.65 L386.86 377.95 L388.08 378.24 L389.31 378.53 L390.55 378.81 L391.79 379.10 L393.03 379.38 L394.27 379.66 L395.53 379.94 L396.78 380.22 L398.04 380.49 L399.30 380.76 L400.57 381.04 L401.84 381.31 L403.12 381.57 L404.40 381.84 L405.68 382.10 L406.97 382.37 L408.26 382.63 L409.56 382.89 L410.86 383.14 L412.16 383.40 L413.47 383.65 L414.79 383.91 L416.11 384.16 L417.43 384.40 L418.75 384.65 L420.08 384.90 L421.42 385.14 L422.76 385.38 L424.10 385.62 L425.45 385.86 L426.80 386.10 L428.15 386.33 L429.51 386.56 L430.88 386.79 L432.25 387.02 L433.62 387.25 L434.99 387.48 L436.37 387.70 L437.76 387.93 L439.15 388.15 L440.54 388.37 L441.94 388.59 L443.34 388.81 L444.75 389.02 L446.16 389.23 L447.57 389.45 L448.99 389.66 L450.42 389.87 L451.84 390.07 L453.28 390.28 L454.71 390.48 L456.15 390.69 L457.60 390.89 L459.05 391.09 L460.50 391.29 L461.96 391.48 L463.42 391.68 L464.88 391.87 L466.35 392.07 L467.83 392.26 L469.31 392.45 L470.79 392.64 L472.28 392.82 L473.77 393.01 L475.27 393.19 L476.77 393.38 L478.27 393.56 L479.78 393.74 L481.29 393.92 L482.81 394.09 L484.33 394.27 L485.86 394.44 L487.39 394.62 L488.92 394.79 L490.46 394.96 L492.01 395.13 L493.55 395.30 L495.10 395.46 L496.66 395.63 L498.22 395.79 L499.79 395.96 L501.36 396.12 L502.93 396.28 L504.51 396.44 L506.09 396.60 L507.68 396.75 L509.27 396.91 L510.86 397.06 L512.46 397.22 L514.06 397.37 L515.67 397.52 L517.28 397.67 L518.90 397.82 L520.52 397.97 L522.15 398.11 L523.78 398.26 L525.41 398.40 L527.05 398.54 L528.69 398.69 L530.34 398.83 L531.99 398.97 L533.65 399.11 L535.31 399.24 L536.97 399.38 L538.64 399.52 L540.32 399.65 L541.99 399.78 L543.68 399.92 L545.36 400.05 L547.05 400.18 L548.75 400.31 L550.45 400.43 L552.15 400.56 L553.86 400.69 L555.58 400.81 L557.29 400.94 L559.01 401.06 L560.74 401.18 L562.47 401.31 L564.21 401.43 L565.94 401.55 L567.69 401.66 L569.44 401.78 L571.19 401.90 L572.95 402.01 L574.71 402.13 L576.47 402.24 L578.24 402.36 L580.02 402.47 L581.80 402.58 L583.58 402.69 L585.37 402.80 L587.16 402.91 L588.96 403.02 L590.76 403.13 L592.56 403.23 L594.37 403.34 L596.19 403.44 L598.01 403.55 L599.83 403.65 L601.66 403.75 L603.49 403.85 L605.32 403.96 L607.17 404.06 L609.01 404.15 L610.86 404.25 L612.71 404.35 L614.57 404.45 L616.44 404.54 L618.30 404.64 L620.18 404.73 L622.05 404.83 L623.93 404.92 L625.82 405.01 L627.71 405.11 L629.60 405.20 L631.50 405.29 L633.41 405.38 L635.31 405.47 L637.22 405.56 L639.14 405.64 L641.06 405.73 L642.99 405.82 L644.92 405.90 L646.85 405.99 L648.79 406.07 L650.74 406.16 L652.68 406.24 L654.64 406.32 L656.59 406.40 L658.55 406.48 L660.52 406.56 L662.49 406.64 L664.47 406.72 L666.44 406.80 L668.43 406.88 L670.42 406.96 L672.41 407.04 L674.41 407.11 L676.41 407.19 L678.42 407.26 L680.43 407.34 L682.44 407.41 L684.46 407.49 L686.49 407.56 L688.52 407.63 L690.55 407.70 L692.59 407.77 L694.63 407.85 L696.68 407.92 L698.73 407.99 L700.78 408.05 L702.84 408.12 L704.91 408.19 L706.98 408.26 L709.05 408.33 L711.13 408.39 L713.22 408.46 L715.30 408.53 L717.40 408.59 L719.49 408.65 L721.59 408.72 L723.70 408.78 L725.81 408.85 L727.92 408.91 L730.04 408.97 L732.17 409.03 L734.30 409.09 L736.43 409.16 L738.57 409.22 L740.71 409.28 L742.86 409.34 L745.01 409.39 L747.16 409.45 L749.32 409.51 L751.49 409.57 L753.66 409.63 L755.83 409.68 L758.01 409.74 L760.20 409.80 L762.38 409.85 L764.58 409.91 L766.77 409.96 L768.97 410.02 L771.18 410.07 L773.39 410.12 L775.61 410.18 L777.83 410.23 L780.05 410.28 L782.28 410.34 L784.51 410.39 L786.75 410.44 L789.00 410.49 L791.24 410.54 L793.49 410.59 L795.75 410.64 L798.01 410.69 L800.28 410.74 L802.55 410.79 L804.82 410.84 L807.10 410.89 L809.39 410.93 L811.68 410.98 L813.97 411.03" stroke="#800080" stroke-dasharray="11 4.3 4.8 4.3" stroke-dashoffset="14.4"/>
<path d="M188.80 441.50 L189.95 418.70 L189.95 417.98 L189.95 417.25 L189.95 416.52 L189.96 415.78 L189.97 415.05 L189.97 414.31 L189.98 413.57 L190.00 412.83 L190.01 412.09 L190.03 411.35 L190.04 410.61 L190.06 409.86 L190.09 409.12 L190.11 408.38 L190.14 407.64 L190.17 406.90 L190.20 406.17 L190.23 405.43 L190.27 404.69 L190.30 403.96 L190.34 403.22 L190.39 402.49 L190.43 401.76 L190.48 401.03 L190.53 400.30 L190.58 399.57 L190.63 398.85 L190.69 398.12 L190.75 397.40 L190.81 396.69 L190.88 395.97 L190.94 395.26 L191.01 394.55 L191.09 393.84 L191.16 393.13 L191.24 392.43 L191.32 391.73 L191.40 391.03 L191.49 390.34 L191.58 389.65 L191.67 388.96 L191.76 388.28 L191.86 387.60 L191.95 386.92 L192.06 386.25 L192.16 385.58 L192.27 384.91 L192.38 384.25 L192.49 383.60 L192.61 382.94 L192.72 382.30 L192.84 381.65 L192.97 381.01 L193.10 380.38 L193.22 379.75 L193.36 379.12 L193.49 378.50 L193.63 377.89 L193.77 377.28 L193.92 376.67 L194.06 376.07 L194.21 375.48 L194.37 374.89 L194.52 374.31 L194.68 373.73 L194.84 373.15 L195.01 372.59 L195.17 372.02 L195.34 371.47 L195.52 370.92 L195.69 370.38 L195.87 369.84 L196.06 369.31 L196.24 368.78 L196.43 368.26 L196.62 367.75 L196.82 367.24 L197.01 366.74 L197.21 366.24 L197.42 365.76 L197.63 365.27 L197.84 364.80 L198.05 364.33 L198.26 363.87 L198.48 363.41 L198.71 362.97 L198.93 362.52 L199.16 362.09 L199.39 361.66 L199.63 361.24 L199.87 360.83 L200.11 360.42 L200.35 360.02 L200.60 359.62 L200.85 359.24 L201.10 358.86 L201.36 358.49 L201.62 358.12 L201.89 357.76 L202.15 357.41 L202.42 357.07 L202.70 356.73 L202.97 356.40 L203.25 356.08 L203.53 355.76 L203.82 355.46 L204.11 355.16 L204.40 354.86 L204.70 354.58 L205.00 354.30 L205.30 354.02 L205.61 353.76 L205.92 353.50 L206.23 353.25 L206.55 353.01 L206.86 352.77 L207.19 352.54 L207.51 352.32 L207.84 352.11 L208.17 351.90 L208.51 351.70 L208.85 351.50 L209.19 351.32 L209.54 351.14 L209.89 350.97 L210.24 350.80 L210.59 350.64 L210.95 350.49 L211.32 350.34 L211.68 350.21 L212.05 350.07 L212.43 349.95 L212.80 349.83 L213.18 349.72 L213.56 349.62 L213.95 349.52 L214.34 349.43 L214.73 349.34 L215.13 349.27 L215.53 349.19 L215.94 349.13 L216.34 349.07 L216.75 349.02 L217.17 348.97 L217.58 348.93 L218.01 348.90 L218.43 348.87 L218.86 348.85 L219.29 348.83 L219.72 348.82 L220.16 348.82 L220.61 348.82 L221.05 348.83 L221.50 348.84 L221.95 348.86 L222.41 348.88 L222.87 348.92 L223.33 348.95 L223.80 348.99 L224.27 349.04 L224.74 349.09 L225.22 349.15 L225.70 349.21 L226.18 349.28 L226.67 349.35 L227.16 349.43 L227.66 349.51 L228.16 349.60 L228.66 349.69 L229.16 349.79 L229.67 349.89 L230.19 350.00 L230.70 350.11 L231.22 350.23 L231.75 350.35 L232.27 350.47 L232.80 350.60 L233.34 350.73 L233.88 350.87 L234.42 351.01 L234.96 351.16 L235.51 351.31 L236.07 351.46 L236.62 351.62 L237.18 351.78 L237.74 351.94 L238.31 352.11 L238.88 352.28 L239.46 352.46 L240.04 352.64 L240.62 352.82 L241.20 353.00 L241.79 353.19 L242.38 353.38 L242.98 353.58 L243.58 353.78 L244.18 353.98 L244.79 354.18 L245.40 354.39 L246.02 354.60 L246.64 354.81 L247.26 355.02 L247.89 355.24 L248.52 355.46 L249.15 355.68 L249.79 355.91 L250.43 356.14 L251.07 356.37 L251.72 356.60 L252.37 356.83 L253.03 357.07 L253.69 357.31 L254.35 357.55 L255.02 357.79 L255.69 358.03 L256.36 358.28 L257.04 358.53 L257.72 358.77 L258.41 359.02 L259.10 359.28 L259.79 359.53 L260.49 359.79 L261.19 360.04 L261.89 360.30 L262.60 360.56 L263.32 360.82 L264.03 361.08 L264.75 361.35 L265.48 361.61 L266.20 361.88 L266.93 362.14 L267.67 362.41 L268.41 362.68 L269.15 362.95 L269.90 363.22 L270.65 363.49 L271.40 363.76 L272.16 364.03 L272.92 364.30 L273.69 364.58 L274.46 364.85 L275.23 365.12 L276.01 365.40 L276.79 365.67 L277.57 365.95 L278.36 366.23 L279.15 366.50 L279.95 366.78 L280.75 367.06 L281.56 367.33 L282.36 367.61 L283.18 367.89 L283.99 368.16 L284.81 368.44 L285.63 368.72 L286.46 369.00 L287.29 369.27 L288.13 369.55 L288.97 369.83 L289.81 370.10 L290.66 370.38 L291.51 370.66 L292.36 370.93 L293.22 371.21 L294.08 371.48 L294.95 371.76 L295.82 372.03 L296.70 372.31 L297.57 372.58 L298.46 372.86 L299.34 373.13 L300.23 373.40 L301.13 373.67 L302.02 373.94 L302.93 374.22 L303.83 374.49 L304.74 374.76 L305.66 375.02 L306.57 375.29 L307.49 375.56 L308.42 375.83 L309.35 376.09 L310.28 376.36 L311.22 376.62 L312.16 376.89 L313.11 377.15 L314.06 377.41 L315.01 377.67 L315.97 377.94 L316.93 378.19 L317.89 378.45 L318.86 378.71 L319.84 378.97 L320.81 379.22 L321.79 379.48 L322.78 379.73 L323.77 379.99 L324.76 380.24 L325.76 380.49 L326.76 380.74 L327.77 380.99 L328.78 381.24 L329.79 381.49 L330.81 381.73 L331.83 381.98 L332.85 382.22 L333.88 382.46 L334.92 382.71 L335.95 382.95 L337.00 383.19 L338.04 383.42 L339.09 383.66 L340.14 383.90 L341.20 384.13 L342.26 384.37 L343.33 384.60 L344.40 384.83 L345.47 385.06 L346.55 385.29 L347.63 385.52 L348.72 385.75 L349.81 385.97 L350.90 386.20 L352.00 386.42 L353.10 386.64 L354.21 386.86 L355.32 387.08 L356.44 387.30 L357.55 387.52 L358.68 387.74 L359.80 387.95 L360.94 388.17 L362.07 388.38 L363.21 388.59 L364.35 388.80 L365.50 389.01 L366.65 389.22 L367.81 389.42 L368.97 389.63 L370.13 389.83 L371.30 390.04 L372.47 390.24 L373.65 390.44 L374.83 390.64 L376.01 390.84 L377.20 391.03 L378.39 391.23 L379.59 391.42 L380.79 391.62 L382.00 391.81 L383.21 392.00 L384.42 392.19 L385.64 392.38 L386.86 392.56 L388.08 392.75 L389.31 392.94 L390.55 393.12 L391.79 393.30 L393.03 393.48 L394.27 393.66 L395.53 393.84 L396.78 394.02 L398.04 394.20 L399.30 394.37 L400.57 394.55 L401.84 394.72 L403.12 394.89 L404.40 395.06 L405.68 395.23 L406.97 395.40 L408.26 395.57 L409.56 395.73 L410.86 395.90 L412.16 396.06 L413.47 396.22 L414.79 396.39 L416.11 396.55 L417.43 396.71 L418.75 396.86 L420.08 397.02 L421.42 397.18 L422.76 397.33 L424.10 397.49 L425.45 397.64 L426.80 397.79 L428.15 397.94 L429.51 398.09 L430.88 398.24 L432.25 398.39 L433.62 398.53 L434.99 398.68 L436.37 398.82 L437.76 398.97 L439.15 399.11 L440.54 399.25 L441.94 399.39 L443.34 399.53 L444.75 399.67 L446.16 399.80 L447.57 399.94 L448.99 400.07 L450.42 400.21 L451.84 400.34 L453.28 400.47 L454.71 400.61 L456.15 400.74 L457.60 400.86 L459.05 400.99 L460.50 401.12 L461.96 401.25 L463.42 401.37 L464.88 401.50 L466.35 401.62 L467.83 401.74 L469.31 401.86 L470.79 401.99 L472.28 402.10 L473.77 402.22 L475.27 402.34 L476.77 402.46 L478.27 402.58 L479.78 402.69 L481.29 402.81 L482.81 402.92 L484.33 403.03 L485.86 403.14 L487.39 403.26 L488.92 403.37 L490.46 403.48 L492.01 403.58 L493.55 403.69 L495.10 403.80 L496.66 403.90 L498.22 404.01 L499.79 404.11 L501.36 404.22 L502.93 404.32 L504.51 404.42 L506.09 404.52 L507.68 404.63 L509.27 404.73 L510.86 404.82 L512.46 404.92 L514.06 405.02 L515.67 405.12 L517.28 405.21 L518.90 405.31 L520.52 405.40 L522.15 405.50 L523.78 405.59 L525.41 405.68 L527.05 405.77 L528.69 405.87 L530.34 405.96 L531.99 406.05 L533.65 406.13 L535.31 406.22 L536.97 406.31 L538.64 406.40 L540.32 406.48 L541.99 406.57 L543.68 406.65 L545.36 406.74 L547.05 406.82 L548.75 406.90 L550.45 406.99 L552.15 407.07 L553.86 407.15 L555.58 407.23 L557.29 407.31 L559.01 407.39 L560.74 407.47 L562.47 407.54 L564.21 407.62 L565.94 407.70 L567.69 407.77 L569.44 407.85 L571.19 407.93 L572.95 408.00 L574.71 408.07 L576.47 408.15 L578.24 408.22 L580.02 408.29 L581.80 408.36 L583.58 408.43 L585.37 408.50 L587.16 408.57 L588.96 408.64 L590.76 408.71 L592.56 408.78 L594.37 408.85 L596.19 408.92 L598.01 408.98 L599.83 409.05 L601.66 409.11 L603.49 409.18 L605.32 409.24 L607.17 409.31 L609.01 409.37 L610.86 409.44 L612.71 409.50 L614.57 409.56 L616.44 409.62 L618.30 409.68 L620.18 409.74 L622.05 409.80 L623.93 409.86 L625.82 409.92 L627.71 409.98 L629.60 410.04 L631.50 410.10 L633.41 410.16 L635.31 410.21 L637.22 410.27 L639.14 410.33 L641.06 410.38 L642.99 410.44 L644.92 410.49 L646.85 410.55 L648.79 410.60 L650.74 410.66 L652.68 410.71 L654.64 410.76 L656.59 410.81 L658.55 410.87 L660.52 410.92 L662.49 410.97 L664.47 411.02 L666.44 411.07 L668.43 411.12 L670.42 411.17 L672.41 411.22 L674.41 411.27 L676.41 411.32 L678.42 411.37 L680.43 411.41 L682.44 411.46 L684.46 411.51 L686.49 411.56 L688.52 411.60 L690.55 411.65 L692.59 411.69 L694.63 411.74 L696.68 411.78 L698.73 411.83 L700.78 411.87 L702.84 411.92 L704.91 411.96 L706.98 412.00 L709.05 412.05 L711.13 412.09 L713.22 412.13 L715.30 412.17 L717.40 412.22 L719.49 412.26 L721.59 412.30 L723.70 412.34 L725.81 412.38 L727.92 412.42 L730.04 412.46 L732.17 412.50 L734.30 412.54 L736.43 412.58 L738.57 412.62 L740.71 412.66 L742.86 412.69 L745.01 412.73 L747.16 412.77 L749.32 412.81 L751.49 412.84 L753.66 412.88 L755.83 412.92 L758.01 412.95 L760.20 412.99 L762.38 413.03 L764.58 413.06 L766.77 413.10 L768.97 413.13 L771.18 413.17 L773.39 413.20 L775.61 413.23 L777.83 413.27 L780.05 413.30 L782.28 413.34 L784.51 413.37 L786.75 413.40 L789.00 413.43 L791.24 413.47 L793.49 413.50 L795.75 413.53 L798.01 413.56 L800.28 413.60 L802.55 413.63 L804.82 413.66 L807.10 413.69 L809.39 413.72 L811.68 413.75 L813.97 413.78" stroke="#000" stroke-dasharray="5 4.34" stroke-dashoffset="3.37"/>
</g>
<g stroke="#000" stroke-width="3.4" fill="none"><line x1="121.40" y1="438.60" x2="121.40" y2="431.00"/><line x1="121.40" y1="1.70" x2="121.40" y2="9.30"/><line x1="163.77" y1="438.60" x2="163.77" y2="434.20"/><line x1="163.77" y1="1.70" x2="163.77" y2="6.10"/><line x1="206.14" y1="438.60" x2="206.14" y2="434.20"/><line x1="206.14" y1="1.70" x2="206.14" y2="6.10"/><line x1="248.51" y1="438.60" x2="248.51" y2="434.20"/><line x1="248.51" y1="1.70" x2="248.51" y2="6.10"/><line x1="290.88" y1="438.60" x2="290.88" y2="431.00"/><line x1="290.88" y1="1.70" x2="290.88" y2="9.30"/><line x1="333.25" y1="438.60" x2="333.25" y2="434.20"/><line x1="333.25" y1="1.70" x2="333.25" y2="6.10"/><line x1="375.62" y1="438.60" x2="375.62" y2="434.20"/><line x1="375.62" y1="1.70" x2="375.62" y2="6.10"/><line x1="417.99" y1="438.60" x2="417.99" y2="434.20"/><line x1="417.99" y1="1.70" x2="417.99" y2="6.10"/><line x1="460.36" y1="438.60" x2="460.36" y2="431.00"/><line x1="460.36" y1="1.70" x2="460.36" y2="9.30"/><line x1="502.73" y1="438.60" x2="502.73" y2="434.20"/><line x1="502.73" y1="1.70" x2="502.73" y2="6.10"/><line x1="545.10" y1="438.60" x2="545.10" y2="434.20"/><line x1="545.10" y1="1.70" x2="545.10" y2="6.10"/><line x1="587.47" y1="438.60" x2="587.47" y2="434.20"/><line x1="587.47" y1="1.70" x2="587.47" y2="6.10"/><line x1="629.84" y1="438.60" x2="629.84" y2="431.00"/><line x1="629.84" y1="1.70" x2="629.84" y2="9.30"/><line x1="672.21" y1="438.60" x2="672.21" y2="434.20"/><line x1="672.21" y1="1.70" x2="672.21" y2="6.10"/><line x1="714.58" y1="438.60" x2="714.58" y2="434.20"/><line x1="714.58" y1="1.70" x2="714.58" y2="6.10"/><line x1="756.95" y1="438.60" x2="756.95" y2="434.20"/><line x1="756.95" y1="1.70" x2="756.95" y2="6.10"/><line x1="799.32" y1="438.60" x2="799.32" y2="431.00"/><line x1="799.32" y1="1.70" x2="799.32" y2="9.30"/><line x1="107.20" y1="418.70" x2="114.80" y2="418.70"/><line x1="813.80" y1="418.70" x2="806.20" y2="418.70"/><line x1="107.20" y1="398.96" x2="111.60" y2="398.96"/><line x1="813.80" y1="398.96" x2="809.40" y2="398.96"/><line x1="107.20" y1="379.23" x2="111.60" y2="379.23"/><line x1="813.80" y1="379.23" x2="809.40" y2="379.23"/><line x1="107.20" y1="359.50" x2="111.60" y2="359.50"/><line x1="813.80" y1="359.50" x2="809.40" y2="359.50"/><line x1="107.20" y1="339.76" x2="114.80" y2="339.76"/><line x1="813.80" y1="339.76" x2="806.20" y2="339.76"/><line x1="107.20" y1="320.02" x2="111.60" y2="320.02"/><line x1="813.80" y1="320.02" x2="809.40" y2="320.02"/><line x1="107.20" y1="300.29" x2="111.60" y2="300.29"/><line x1="813.80" y1="300.29" x2="809.40" y2="300.29"/><line x1="107.20" y1="280.55" x2="111.60" y2="280.55"/><line x1="813.80" y1="280.55" x2="809.40" y2="280.55"/><line x1="107.20" y1="260.82" x2="114.80" y2="260.82"/><line x1="813.80" y1="260.82" x2="806.20" y2="260.82"/><line x1="107.20" y1="241.08" x2="111.60" y2="241.08"/><line x1="813.80" y1="241.08" x2="809.40" y2="241.08"/><line x1="107.20" y1="221.35" x2="111.60" y2="221.35"/><line x1="813.80" y1="221.35" x2="809.40" y2="221.35"/><line x1="107.20" y1="201.61" x2="111.60" y2="201.61"/><line x1="813.80" y1="201.61" x2="809.40" y2="201.61"/><line x1="107.20" y1="181.88" x2="114.80" y2="181.88"/><line x1="813.80" y1="181.88" x2="806.20" y2="181.88"/><line x1="107.20" y1="162.14" x2="111.60" y2="162.14"/><line x1="813.80" y1="162.14" x2="809.40" y2="162.14"/><line x1="107.20" y1="142.41" x2="111.60" y2="142.41"/><line x1="813.80" y1="142.41" x2="809.40" y2="142.41"/><line x1="107.20" y1="122.68" x2="111.60" y2="122.68"/><line x1="813.80" y1="122.68" x2="809.40" y2="122.68"/><line x1="107.20" y1="102.94" x2="114.80" y2="102.94"/><line x1="813.80" y1="102.94" x2="806.20" y2="102.94"/><line x1="107.20" y1="83.20" x2="111.60" y2="83.20"/><line x1="813.80" y1="83.20" x2="809.40" y2="83.20"/><line x1="107.20" y1="63.47" x2="111.60" y2="63.47"/><line x1="813.80" y1="63.47" x2="809.40" y2="63.47"/><line x1="107.20" y1="43.73" x2="111.60" y2="43.73"/><line x1="813.80" y1="43.73" x2="809.40" y2="43.73"/><line x1="107.20" y1="24.00" x2="114.80" y2="24.00"/><line x1="813.80" y1="24.00" x2="806.20" y2="24.00"/><line x1="107.20" y1="4.26" x2="111.60" y2="4.26"/><line x1="813.80" y1="4.26" x2="809.40" y2="4.26"/></g>
<rect x="107.2" y="1.7" width="706.5999999999999" height="436.90000000000003" fill="none" stroke="#000" stroke-width="3.8"/>
<g font-size="27.8"><text x="121.4" y="471.1" text-anchor="middle">200</text><text x="290.9" y="471.1" text-anchor="middle">400</text><text x="460.4" y="471.1" text-anchor="middle">600</text><text x="629.8" y="471.1" text-anchor="middle">800</text><text x="799.6" y="471.1" text-anchor="middle">1000</text><text x="101.9" y="428.3" text-anchor="end">0</text><text x="101.9" y="349.4" text-anchor="end">20</text><text x="101.9" y="270.4" text-anchor="end">40</text><text x="101.9" y="191.5" text-anchor="end">60</text><text x="101.9" y="112.5" text-anchor="end">80</text><text x="101.9" y="33.6" text-anchor="end">100</text></g>
<g fill="none" stroke-width="3.2">
<line x1="502" x2="574.3" y1="36" y2="36" stroke="#00ff00" stroke-dasharray="4.6 2.93"/>
<line x1="502" x2="566.5" y1="93" y2="93" stroke="#0000ff" stroke-dasharray="22 21"/>
<line x1="502" x2="572.4" y1="149.6" y2="149.6" stroke="#ff0000" stroke-dasharray="10.9 4"/>
<line x1="502" x2="571" y1="206.6" y2="206.6" stroke="#800080" stroke-dasharray="3.7 4.6 11.3 4.6"/>
<line x1="502" x2="572.3" y1="263.3" y2="263.3" stroke="#000" stroke-dasharray="5 4.34"/>
</g>
<g font-size="33.6" word-spacing="1.8">
<text x="587.2" y="43.1" word-spacing="0">Without Laser</text>
<text x="586" y="98.9"><tspan font-style="italic">n</tspan>= ± 110</text>
<text x="586" y="156.0"><tspan font-style="italic">n</tspan>= ± 80</text>
<text x="586" y="212.6"><tspan font-style="italic">n</tspan>= ± 60</text>
<text x="586" y="269.4"><tspan font-style="italic">n</tspan>= ± 40</text>
</g>
<text x="113.2" y="45" font-size="33" font-weight="bold">(d)</text>
<g font-size="34" font-weight="bold">
<text x="264" y="61.8"><tspan font-style="italic">F</tspan><tspan font-size="24" dy="5" dx="-1.5">HWZ</tspan><tspan dy="-5" dx="0.5" word-spacing="-2.2"> = 1</tspan></text>
<text x="264" y="100.8"><tspan font-style="italic">F</tspan><tspan font-size="24" dy="5" dx="-1.5">HW</tspan><tspan font-size="24" font-style="italic">γ</tspan><tspan dy="-5" dx="0.5" word-spacing="-2.2"> = 0</tspan></text>
</g>
<text transform="translate(33.2,237) rotate(-90)" font-size="44.5">[fb]</text>
<text transform="translate(33.2,264.2) rotate(-90) scale(1.06,1)" font-size="44.5" font-style="italic">σ</text>
<g font-size="44.8">
<text x="409.6" y="554.6" font-style="italic">s</text>
<text x="441.6" y="554.6">(GeV)</text>
</g>
<path d="M364.3 544.7 L373.8 539.3 L374.7 539.4 L386 563.5 L398.6 494.6 L440 494.6 L440 497.8 L401.2 497.8 L387.8 574 L384 574 L370.9 543.5 L365.3 546.7 Z" fill="#000" stroke="none"/>
</svg>
</body></html>
